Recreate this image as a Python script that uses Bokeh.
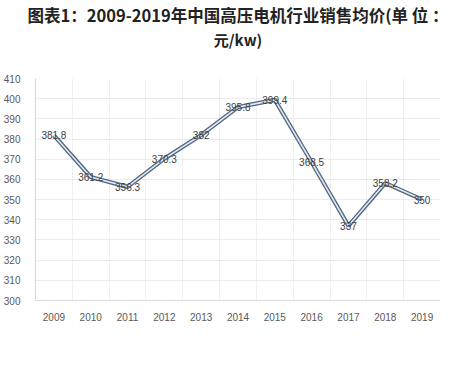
from bokeh.plotting import figure
from bokeh.models import Title, FixedTicker, ColumnDataSource, Range1d
from bokeh.core.properties import value
from bokeh.embed import file_html
from bokeh.resources import INLINE

years = [2009, 2010, 2011, 2012, 2013, 2014, 2015, 2016, 2017, 2018, 2019]
prices = [381.8, 361.2, 356.3, 370.3, 382, 395.8, 399.4, 368.5, 337, 358.2, 350]
price_labels = ["381.8", "361.2", "356.3", "370.3", "382", "395.8", "399.4", "368.5", "337", "358.2", "350"]
y_ticks = [300, 310, 320, 330, 340, 350, 360, 370, 380, 390, 400, 410]
title_line1 = "图表1：2009-2019年中国高压电机行业销售均价(单 位 ："
title_line2 = "元/kw)"

src = ColumnDataSource(dict(x=years, y=prices, t=price_labels))

p = figure(width=450, height=356, output_backend="svg", toolbar_location=None,
           x_range=Range1d(2008.5, 2019.5), y_range=Range1d(300, 410),
           min_border_left=35, min_border_right=10, min_border_bottom=56,
           min_border_top=0, title=None)
p.outline_line_color = None

spacer = Title(text=" ", text_font_size="24px", standoff=0)
t2 = Title(text=title_line2, align="center", text_font="Noto Sans CJK SC",
           text_font_size="15px", text_font_style="bold", text_color="#222222",
           offset=-12, standoff=0)
t1 = Title(text=title_line1, align="center", text_font="Noto Sans CJK SC",
           text_font_size="16.5px", text_font_style="bold", text_color="#222222",
           offset=-12, standoff=0)
p.add_layout(spacer, "above")
p.add_layout(t2, "above")
p.add_layout(t1, "above")

# axes
p.xaxis.ticker = FixedTicker(ticks=years)
p.yaxis.ticker = FixedTicker(ticks=y_ticks)
for ax in (p.xaxis[0], p.yaxis[0]):
    ax.major_tick_line_color = None
    ax.minor_tick_line_color = None
    ax.axis_line_color = "#d9d9d9"
    ax.major_label_text_color = "#595959"
    ax.major_label_text_font = "Liberation Sans"
    ax.major_label_text_font_size = "10px"
p.yaxis.major_label_standoff = 9
p.xaxis.major_label_standoff = 6

p.xgrid.ticker = FixedTicker(ticks=[y + 0.5 for y in years[:-1]])
p.xgrid.grid_line_color = "#f0f0f0"
p.ygrid.grid_line_color = "#ececec"

p.line("x", "y", source=src, line_color="#54657d", line_width=4.2)
p.line("x", "y", source=src, line_color="#dbe8f5", line_width=1.6)

p.text("x", "y", text="t", source=src, text_align="center", text_baseline="middle",
       text_font=value("Liberation Sans"), text_font_size="10px", text_color="#404040")

open("out.html", "w").write(file_html(p, INLINE))
